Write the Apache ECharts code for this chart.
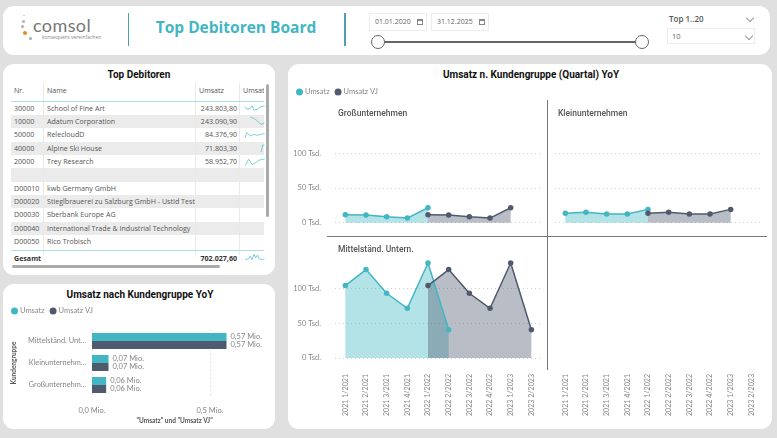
<!DOCTYPE html>
<html>
<head>
<meta charset="utf-8">
<title>Top Debitoren Board</title>
<script src="https://cdn.jsdelivr.net/npm/echarts@6/dist/echarts.min.js"></script>
<style>
html, body { margin: 0; padding: 0; width: 777px; height: 438px; overflow: hidden; background: #e0e0e0; font-family: "Open Sans", sans-serif; }
#board div, #board span { position: absolute; white-space: nowrap; }
.panel { background: #fff; border-radius: 11px; }
.head { font-family: Roboto, sans-serif; font-weight: 700; font-size: 10px; color: #111; transform: translateX(-50%); }
.cell { font-size: 7.1px; line-height: 13.4px; color: #555; }
.num { text-align: right; }
.box { border: 1px solid #ececec; background: #fff; box-sizing: border-box; font-size: 7px; color: #666; line-height: 15px; padding-left: 5px; }
.cal { width: 6px; height: 6px; border: 1px solid #888; border-top-width: 2px; box-sizing: border-box; }
.knob { width: 14px; height: 14px; border: 1.5px solid #666; border-radius: 50%; background: #fff; box-sizing: border-box; }
.chev { width: 5px; height: 5px; border-right: 1px solid #999; border-bottom: 1px solid #999; transform: rotate(45deg); }
.brand { font-weight: 700; font-size: 15.5px; line-height: 22px; color: #42b6c3; transform: translateX(-50%); }
#main { position: absolute; left: 0; top: 0; width: 777px; height: 438px; }
</style>
</head>
<body>
<div id="board"></div>
<div id="main"></div>
<script>
var quarters = ['2021 1/2021', '2021 2/2021', '2021 3/2021', '2021 4/2021', '2022 1/2022', '2022 2/2022', '2022 3/2022', '2022 4/2022', '2023 1/2023', '2023 2/2023'];

// Umsatz n. Kundengruppe, Tsd.
var grossUmsatz = [11.5, 11, 8.6, 6.7, 21.6, null, null, null, null, null];
var grossVJ = [null, null, null, null, 11.5, 11, 8.6, 6.7, 21.6, null];
var kleinUmsatz = [13.5, 15, 12.5, 12.5, 19.2, null, null, null, null, null];
var kleinVJ = [null, null, null, null, 13.5, 15, 12.5, 12.5, 19.2, null];
var mittelUmsatz = [104.3, 127.4, 93.3, 71.6, 136.8, 40.8, null, null, null, null];
var mittelVJ = [null, null, null, null, 104.3, 127.4, 93.3, 71.6, 136.8, 40.8];

// Umsatz nach Kundengruppe, Mio.
var groupLabels = ['Mittelständ. Unt...', 'Kleinunternehm...', 'Großunternehm...'];
var groupUmsatz = [0.57, 0.07, 0.06];
var groupVJ = [0.57, 0.07, 0.06];

var tableNr = ['30000', '10000', '50000', '40000', '20000', '', 'D00010', 'D00020', 'D00030', 'D00040', 'D00050'];
var tableName = ['School of Fine Art', 'Adatum Corporation', 'RelecloudD', 'Alpine Ski House', 'Trey Research', '', 'kwb Germany GmbH', 'Stieglbrauerei zu Salzburg GmbH - UstId Test', 'Sberbank Europe AG', 'International Trade & Industrial Technology', 'Rico Trobisch'];
var tableUmsatz = ['243.803,80', '243.090,90', '84.376,90', '71.803,30', '58.952,70', '', '', '', '', '', ''];
var tableTotal = '702.027,60';

// sparklines of the table, row by row, last one is Gesamt
var sparkRows = [
	[6, 3, 1, 4, 7, 2, 0, 3, 5, 6, 6, 7],
	[null, null, null, 9, 8, 8, 7, 5, 3, 1, 1, 3],
	[1, 7, 5, 3, 3, 5, 6, 4, 3, 5, 5, 6],
	[null, null, null, null, null, null, null, null, null, 0, 8, 8],
	[0, 3, 7, 4, 1, 1, 3, 4, 6, 7, 7, 7],
	[1, 3, 2, 5, 1, 7, 3, 6, 2, 4, 1, 2]
];

var teal = '#42b6c3';
var dark = '#505a6e';
var board = document.getElementById('board');
var html = '';

function put(cls, l, t, w, h, txt, extra) {
	html += '<div class="' + cls + '" style="left:' + l + 'px;top:' + t + 'px;' + (w ? 'width:' + w + 'px;' : '') + (h ? 'height:' + h + 'px;' : '') + (extra || '') + '">' + (txt || '') + '</div>';
}

// panels
put('panel', 3, 6, 767, 49);
put('panel', 3, 64, 272, 211);
put('panel', 3, 284, 272, 145);
put('panel', 288, 64, 484, 365);

// header
put('', 23, 14.5, 1.5, 1.5, '', 'background:#ccc;border-radius:50%;');
put('', 22, 20, 2.5, 2.5, '', 'background:#bbb;border-radius:50%;');
put('', 21, 25, 3, 3, '', 'background:#aaa;border-radius:50%;');
put('', 23, 31, 4, 4, '', 'background:#ee8a1d;border-radius:50%;');
put('', 28.5, 36.5, 3, 3, '', 'background:#aaa;border-radius:50%;');
put('', 33, 13, 0, 0, 'comsol', 'font-family:Lato,sans-serif;font-size:18px;line-height:24px;color:#777;letter-spacing:.4px;');
put('', 42, 34, 0, 0, 'konsequent vereinfachen', 'font-size:5px;line-height:7px;color:#888;');
put('', 127.5, 13, 1.5, 33, '', 'background:#4f9fac;');
put('', 344, 13, 1.5, 33, '', 'background:#4f9fac;');
put('brand', 236, 16, 0, 0, 'Top Debitoren Board');
put('box', 369, 13, 58, 18, '01.01.2020');
put('box', 431, 13, 58, 18, '31.12.2025');
put('cal', 417, 18.5);
put('cal', 479, 18.5);
put('', 378, 41.3, 264, 1.6, '', 'background:#666;');
put('knob', 371, 35);
put('knob', 635, 35);
put('', 669, 12.5, 0, 0, 'Top 1..20', 'font-size:8px;line-height:12px;color:#555;font-weight:600;');
put('chev', 747, 15);
put('box', 667, 28, 88, 16, '10', 'font-size:7.5px;line-height:14px;padding-left:4px;');
put('chev', 746, 33);

// table
put('head', 139, 69, 0, 0, 'Top Debitoren');
var colX = [43, 195, 239];
var rowTop = 101.5, rowH = 13.37;
put('cell', 14, 83.5, 0, 0, 'Nr.');
put('cell', 47, 83.5, 0, 0, 'Name');
put('cell', 199, 83.5, 0, 0, 'Umsatz');
put('cell', 243, 83.5, 21, 0, 'Umsatz', 'overflow:hidden;height:14px;');
for (var i = 0; i < tableNr.length; i++) {
	var rowY = rowTop + i * rowH;
	if (i % 2 == 1) put('', 11, rowY, 253, rowH, '', 'background:#ebebeb;');
	put('cell', 14, rowY, 0, 0, tableNr[i]);
	put('cell', 47, rowY, 0, 0, tableName[i].replace('&', '&amp;'));
	put('cell num', 177, rowY, 60, 0, tableUmsatz[i]);
}
colX.forEach(function (x) {
	put('', x, 83, 1, 172, '', 'background:#e9e9e9;');
});
put('', 11, 100.5, 253, 1, '', 'background:#a9dfe4;');
put('', 11, 250, 253, 1, '', 'background:#a9dfe4;');
put('cell', 14, 251.5, 0, 0, 'Gesamt', 'font-weight:700;color:#333;');
put('cell num', 177, 251.5, 60, 0, tableTotal, 'font-weight:700;color:#333;');
put('', 12, 264.5, 208, 3.5, '', 'background:#aaa;border-radius:2px;');
put('', 265.5, 84, 3.5, 133, '', 'background:#aaa;border-radius:2px;');

// titles of the chart panels
put('head', 140, 289, 0, 0, 'Umsatz nach Kundengruppe YoY');
put('head', 531, 69, 0, 0, 'Umsatz n. Kundengruppe (Quartal) YoY');

// lines between small multiples
put('', 327, 235.5, 440, 1.5, '', 'background:#777;');
put('', 546.5, 100, 1.5, 270, '', 'background:#777;');

board.innerHTML = html;

var labelColor = '#858585';
var labelFont = 'Lato, sans-serif';
var dotted = { show: true, lineStyle: { color: '#cfcfcf', type: [1, 3], width: 1 }, showMaxLine: false };

// grids of the small multiples: 0 Gross, 1 Klein, 2 Mittel, 3 empty
var grids = [
	{ left: 335, top: 118.6, width: 206.7, height: 104.1 },
	{ left: 555, top: 118.6, width: 206.7, height: 104.1 },
	{ left: 335, top: 253.9, width: 206.7, height: 104.1 },
	{ left: 555, top: 253.9, width: 206.7, height: 104.1 }
];
var xAxes = [], yAxes = [], series = [];

grids.forEach(function (g, n) {
	xAxes.push({
		gridIndex: n, type: 'category', data: quarters,
		axisLine: { show: false }, axisTick: { show: false },
		axisLabel: { show: n >= 2, rotate: 90, interval: 0, margin: 16, fontSize: 7.1, color: labelColor, fontFamily: labelFont }
	});
	yAxes.push({
		gridIndex: n, type: 'value', min: 0, max: 150, interval: 50,
		splitLine: n == 3 ? { show: false } : dotted,
		axisLabel: {
			show: n == 0 || n == 2, margin: 14, fontSize: 7.5, color: labelColor, fontFamily: labelFont, showMaxLabel: false,
			formatter: '{value} Tsd.'
		}
	});
});

function lineSeries(name, data, color, n) {
	return {
		name: name, type: 'line', xAxisIndex: n, yAxisIndex: n, data: data,
		symbol: 'circle', symbolSize: 5.5, connectNulls: false,
		lineStyle: { color: color, width: 1.5 },
		itemStyle: { color: color },
		areaStyle: { color: color, opacity: 0.4 }
	};
}
series.push(lineSeries('Umsatz', grossUmsatz, teal, 0));
series.push(lineSeries('Umsatz VJ', grossVJ, dark, 0));
series.push(lineSeries('Umsatz', kleinUmsatz, teal, 1));
series.push(lineSeries('Umsatz VJ', kleinVJ, dark, 1));
series.push(lineSeries('Umsatz', mittelUmsatz, teal, 2));
series.push(lineSeries('Umsatz VJ', mittelVJ, dark, 2));

// bar chart
var barGrid = grids.length;
grids.push({ left: 92, top: 330, width: 165.2, height: 66 });
xAxes.push({
	gridIndex: barGrid, type: 'value', min: 0, max: 0.7, interval: 0.5,
	name: '"Umsatz" und "Umsatz VJ"', nameLocation: 'middle', nameGap: 21,
	nameTextStyle: { fontSize: 6.5, fontWeight: 'bold', color: '#555', fontFamily: labelFont },
	axisLine: { show: false }, axisTick: { show: false },
	splitLine: dotted,
	axisLabel: {
		margin: 11, fontSize: 7.5, color: labelColor, fontFamily: labelFont, showMaxLabel: false,
		formatter: function (v) { return v.toFixed(1).replace('.', ',') + ' Mio.'; }
	}
});
yAxes.push({
	gridIndex: barGrid, type: 'category', inverse: true, data: groupLabels,
	name: 'Kundengruppe', nameLocation: 'middle', nameGap: 75,
	nameTextStyle: { fontSize: 6.5, fontWeight: 'bold', color: '#555', fontFamily: labelFont },
	axisLine: { show: false }, axisTick: { show: false },
	axisLabel: { margin: 6, fontSize: 7.4, color: labelColor, fontFamily: labelFont }
});
function barSeries(name, data, color) {
	return {
		name: name, type: 'bar', xAxisIndex: barGrid, yAxisIndex: barGrid, data: data,
		barWidth: 8, barGap: 0, itemStyle: { color: color },
		label: {
			show: true, position: 'right', distance: 4, fontSize: 7.5, color: labelColor, fontFamily: labelFont,
			formatter: function (p) { return p.value.toFixed(2).replace('.', ',') + ' Mio.'; }
		}
	};
}
series.push(barSeries('Umsatz', groupUmsatz, teal));
series.push(barSeries('Umsatz VJ', groupVJ, dark));

// sparklines inside the table
var sparkTop = [104, 117.4, 130.8, 144.1, 157.5, 252.5];
sparkRows.forEach(function (row, r) {
	var n = grids.length;
	grids.push({ left: 245, top: sparkTop[r], width: 19.5, height: 8 });
	xAxes.push({ gridIndex: n, type: 'category', show: false, boundaryGap: false, data: row.map(function (v, k) { return k; }) });
	yAxes.push({ gridIndex: n, type: 'value', show: false, min: 0, max: 9 });
	series.push({
		name: 'spark' + r, type: 'line', xAxisIndex: n, yAxisIndex: n, data: row,
		symbol: 'none', silent: true, lineStyle: { color: '#5fc3cf', width: 0.8 }
	});
});

var legendBase = {
	data: ['Umsatz', 'Umsatz VJ'], icon: 'circle', itemWidth: 7, itemHeight: 7, itemGap: 5, padding: 0, selectedMode: false,
	textStyle: { fontSize: 7.5, color: labelColor, fontFamily: labelFont, padding: [0, 0, 0, -3] }
};

var myChart = echarts.init(document.getElementById('main'));
var option = {
	animation: false,
	backgroundColor: 'transparent',
	title: [
		{ text: 'Großunternehmen', left: 338, top: 109 },
		{ text: 'Kleinunternehmen', left: 558, top: 109 },
		{ text: 'Mittelständ. Untern.', left: 338, top: 245 }
	].map(function (t) {
		t.padding = 0;
		t.textStyle = { fontSize: 8.5, fontWeight: 500, color: '#555', fontFamily: 'Roboto, sans-serif' };
		return t;
	}),
	legend: [
		Object.assign({ left: 296, top: 88 }, legendBase),
		Object.assign({ left: 11, top: 307 }, legendBase)
	],
	grid: grids,
	xAxis: xAxes,
	yAxis: yAxes,
	series: series
};
myChart.setOption(option);
</script>
</body>
</html>
